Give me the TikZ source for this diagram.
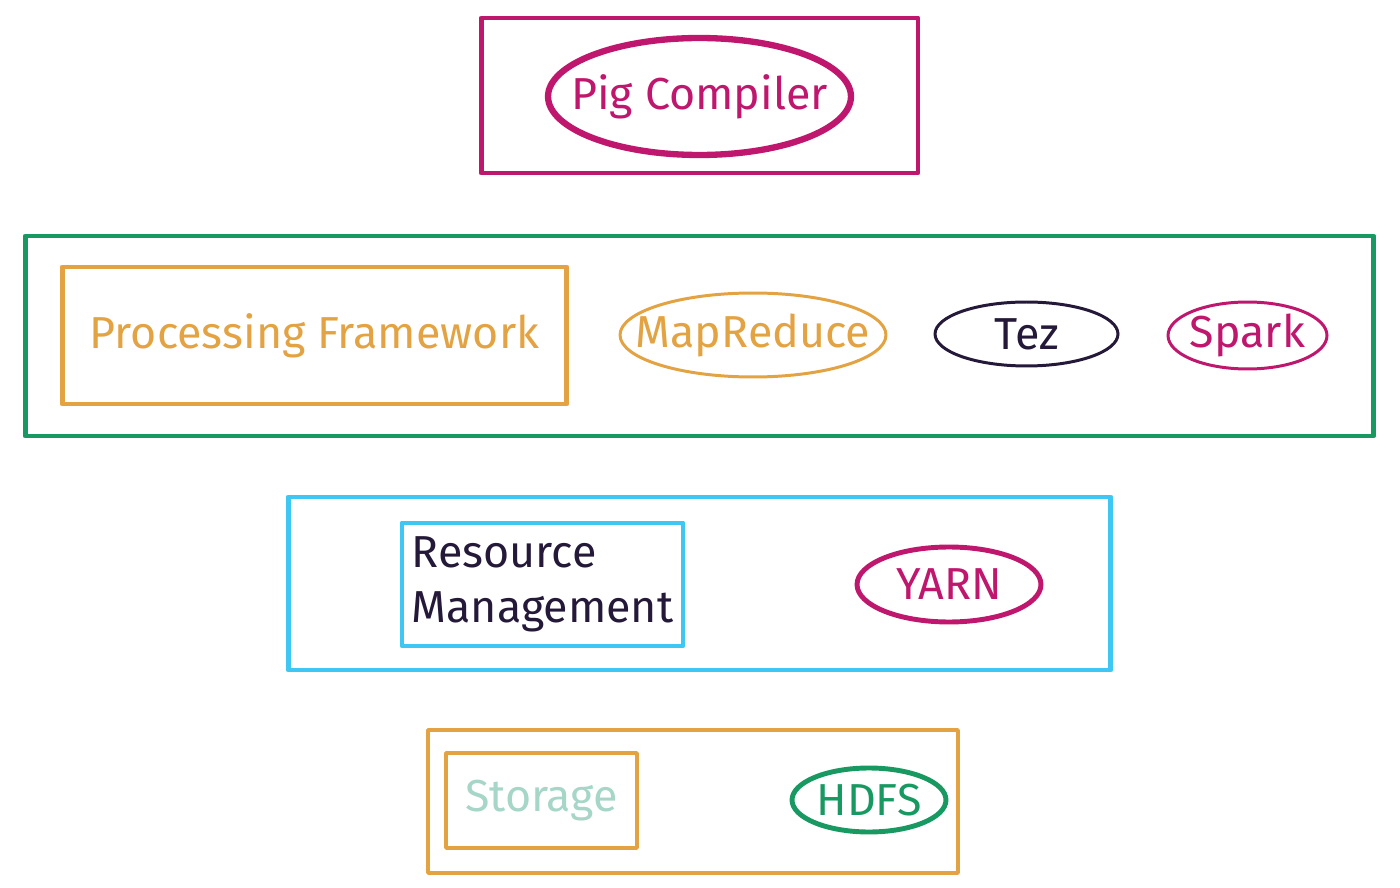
\documentclass[tikz,border=0pt]{standalone}
\usepackage{fontspec}
\setmainfont{Fira Sans}
\usepackage{tikz}
\usetikzlibrary{shapes.geometric}
\definecolor{mpink}{rgb}{0.75, 0.09, 0.43}
\definecolor{mgreen}{rgb}{0.09, 0.6, 0.38}
\definecolor{morange}{rgb}{0.89, 0.64, 0.26}
\definecolor{mdark}{rgb}{0.14, 0.1, 0.22}
\definecolor{mblue}{rgb}{0.24, 0.78, 0.95}
\definecolor{mteal}{rgb}{0.65, 0.84, 0.78}
\tikzset{box/.style = {draw, rectangle, line width = 2.8pt, line cap = round,
                       line join = round, inner sep = 0}}
\tikzset{oval/.style = {draw, ellipse, line width = 1.7pt, inner sep = -1cm}}
\tikzset{hand/.style = {font = \fontsize{25.5}{31}\selectfont}}

\begin{document}
\begin{tikzpicture}[x=0.02cm, y=-0.02cm]
      \useasboundingbox (0, 0) rectangle (1400, 888);

      % compiler
      \node [box, mpink, minimum width=8.74cm, minimum height=3.1cm] (pig) at (699.5, 95.5) {};
      \node [oval, mpink, line width=3.6pt, minimum width=6.06cm, minimum height=2.34cm,
             text=mpink, hand] (pigc) at (699.5, 96.5) {Pig Compiler};

      % processing
      \node [box, mgreen, minimum width=26.98cm, minimum height=4cm] (proc) at (699.5, 336) {};
      \node [box, morange, minimum width=10.1cm, minimum height=2.74cm, text=morange,
             hand] (pf) at (314.5, 335.5) {Processing Framework};
      \node [oval, morange, minimum width=5.32cm, minimum height=1.68cm, text=morange,
             hand] (mr) at (753, 335) {MapReduce};
      \node [oval, mdark, minimum width=3.66cm, minimum height=1.28cm, text=mdark,
             hand] (tez) at (1026.5, 334) {Tez};
      \node [oval, mpink, minimum width=3.18cm, minimum height=1.34cm, text=mpink,
             hand] (spark) at (1247.5, 335.5) {Spark};

      % resources
      \node [box, mblue, minimum width=16.46cm, minimum height=3.46cm] (res) at (699.5, 583.5) {};
      \node [box, mblue, minimum width=5.62cm, minimum height=2.46cm, text=mdark,
             align=left, hand] (rm) at (542.5, 584.5) {Resource\\Management};
      \node [oval, mpink, line width=2.8pt, minimum width=3.68cm, minimum height=1.5cm,
             text=mpink, hand] (yarn) at (949, 584.5) {YARN};

      % storage
      \node [box, morange, line width=2.2pt, minimum width=10.6cm, minimum height=2.86cm] (stor) at (693, 801.5) {};
      \node [box, morange, line width=2.2pt, minimum width=3.82cm, minimum height=1.9cm,
             text=mteal, hand] (st) at (541.5, 800.5) {Storage};
      \node [oval, mgreen, line width=2.8pt, minimum width=3.08cm, minimum height=1.28cm,
             text=mgreen, hand] (hdfs) at (869, 800) {HDFS};
    \end{tikzpicture}
\end{document}
